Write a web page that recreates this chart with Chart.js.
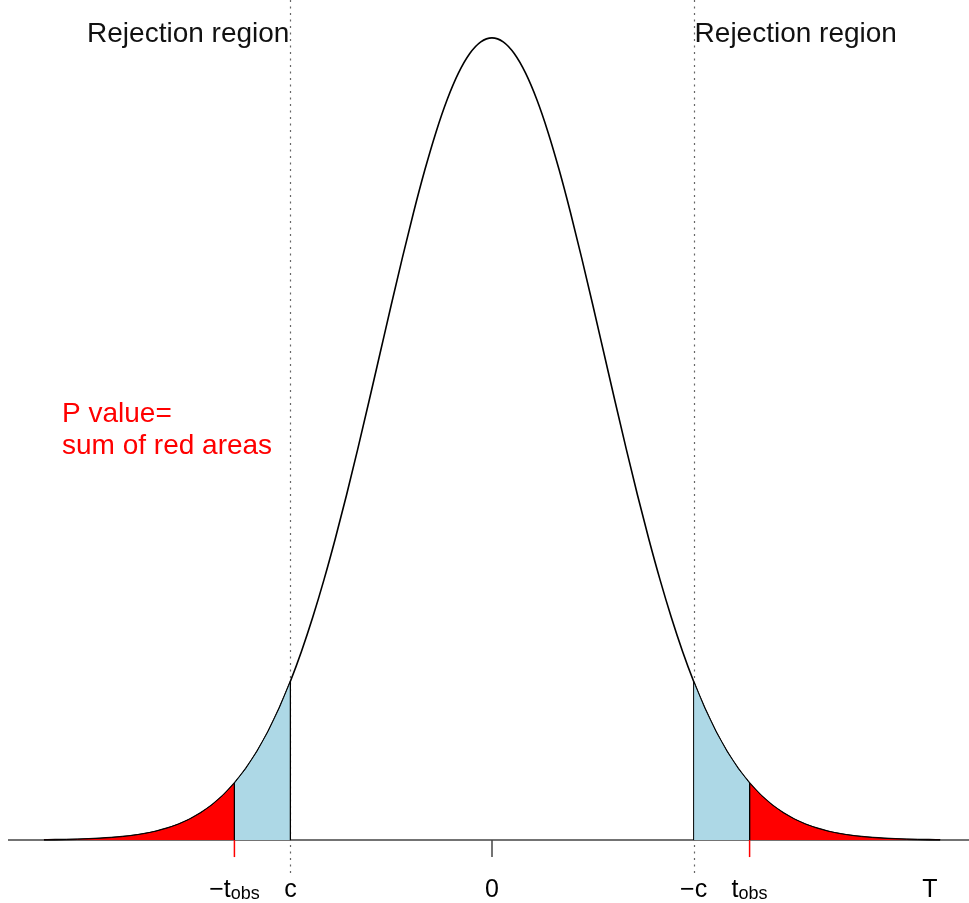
<!DOCTYPE html>
<html>
<head>
<meta charset="utf-8">
<script src="https://cdn.jsdelivr.net/npm/chart.js@4.4.0/dist/chart.umd.min.js"></script>
<style>
  html, body { margin: 0; padding: 0; background: #fff; }
  canvas { display: block; }
</style>
</head>
<body>
<canvas id="chart" width="969" height="903"></canvas>
<script>
// density of the test statistic (right half, symmetric)
const halfX = [0, 0.1, 0.2, 0.3, 0.4, 0.5, 0.6, 0.7, 0.8, 0.9, 1.0,
  1.1, 1.2, 1.3, 1.4, 1.5, 1.6, 1.7, 1.8, 1.9, 2.0,
  2.1, 2.2, 2.3, 2.4, 2.5, 2.6, 2.7, 2.8, 2.9, 3.0,
  3.1, 3.2, 3.3, 3.4, 3.5, 3.6, 3.7, 3.8, 3.9, 4.0];
const halfDensity = [0.39894, 0.39695, 0.39104, 0.38139, 0.36827, 0.35207, 0.33322, 0.31225, 0.28969, 0.26609, 0.24197,
  0.21785, 0.19419, 0.17137, 0.14973, 0.12952, 0.11092, 0.09405, 0.07895, 0.06562, 0.05399,
  0.04398, 0.03547, 0.02833, 0.02239, 0.01753, 0.01358, 0.01042, 0.00792, 0.00595, 0.00443,
  0.00327, 0.00238, 0.00172, 0.00123, 0.00087, 0.00061, 0.00042, 0.00029, 0.00020, 0.00013];

const critical = 1.8;   // c
const tObs = 2.3;       // t_obs
const tailEnd = 4.0;

// tick labels along the axis: [main text, subscript]
const tickValues = [-tObs, -critical, 0, critical, tObs, 3.91];
const tickLabels = [['\u2212t', 'obs'], ['c', ''], ['0', ''], ['\u2212c', ''], ['t', 'obs'], ['T', '']];

const FONT = '"Liberation Sans", Arial, Helvetica, sans-serif';

// full curve from -4 to 4
const curve = [];
for (let i = halfX.length - 1; i > 0; i--) curve.push({ x: -halfX[i], y: halfDensity[i] });
for (let i = 0; i < halfX.length; i++) curve.push({ x: halfX[i], y: halfDensity[i] });

// closed region under the curve between a and b (a < b, same side)
function region(a, b) {
  const pts = [{ x: a, y: 0 }];
  curve.forEach(p => {
    if (p.x >= a - 1e-9 && p.x <= b + 1e-9) pts.push({ x: p.x, y: p.y });
  });
  pts.push({ x: b, y: 0 });
  return pts;
}

function regionSet(data, color) {
  return {
    data: data,
    borderColor: '#000',
    borderWidth: 1,
    backgroundColor: color,
    fill: 'origin',
    pointRadius: 0,
    tension: 0
  };
}

const decorations = {
  id: 'decorations',
  beforeDatasetsDraw(chart) {
    const { ctx, scales: { x, y } } = chart;
    const y0 = y.getPixelForValue(0);
    ctx.save();
    // horizontal axis line
    ctx.strokeStyle = '#444';
    ctx.lineWidth = 1.5;
    ctx.beginPath();
    ctx.moveTo(8, y0);
    ctx.lineTo(chart.width, y0);
    ctx.stroke();
    // dotted lines at the critical values
    ctx.strokeStyle = '#666';
    ctx.lineWidth = 1.2;
    ctx.setLineDash([2, 4.5]);
    [-critical, critical].forEach(v => {
      const px = Math.round(x.getPixelForValue(v)) + 0.5;
      ctx.beginPath();
      ctx.moveTo(px, 0);
      ctx.lineTo(px, y0 + 33);
      ctx.stroke();
    });
    ctx.restore();
  },
  afterDatasetsDraw(chart) {
    const { ctx, scales: { x, y } } = chart;
    const y0 = y.getPixelForValue(0);
    ctx.save();
    // ticks
    ctx.lineWidth = 1.5;
    [[0, '#444'], [-tObs, '#ff0000'], [tObs, '#ff0000']].forEach(([v, col]) => {
      const px = x.getPixelForValue(v);
      ctx.strokeStyle = col;
      ctx.beginPath();
      ctx.moveTo(px, y0);
      ctx.lineTo(px, y0 + 17);
      ctx.stroke();
    });
    // tick labels
    ctx.fillStyle = '#000';
    ctx.textBaseline = 'alphabetic';
    ctx.textAlign = 'left';
    tickValues.forEach((v, i) => {
      const [main, sub] = tickLabels[i];
      ctx.font = '25px ' + FONT;
      const wMain = ctx.measureText(main).width;
      ctx.font = '18px ' + FONT;
      const wSub = sub ? ctx.measureText(sub).width : 0;
      const left = x.getPixelForValue(v) - (wMain + wSub) / 2;
      ctx.font = '25px ' + FONT;
      ctx.fillText(main, left, 897);
      if (sub) {
        ctx.font = '18px ' + FONT;
        ctx.fillText(sub, left + wMain, 899);
      }
    });
    // region captions
    ctx.font = '28px ' + FONT;
    ctx.fillStyle = '#111';
    ctx.textAlign = 'right';
    ctx.fillText('Rejection region', x.getPixelForValue(-critical) - 1, 42);
    ctx.textAlign = 'left';
    ctx.fillText('Rejection region', x.getPixelForValue(critical) + 1, 42);
    // p value note
    ctx.fillStyle = '#ff0000';
    ctx.fillText('P value=', 62, 422);
    ctx.fillText('sum of red areas', 62, 454);
    ctx.restore();
  }
};

new Chart(document.getElementById('chart'), {
  type: 'line',
  data: {
    datasets: [
      regionSet(region(-tailEnd, -tObs), '#ff0000'),
      regionSet(region(-tObs, -critical), '#add8e6'),
      regionSet(region(critical, tObs), '#add8e6'),
      regionSet(region(tObs, tailEnd), '#ff0000'),
      {
        data: curve,
        borderColor: '#000',
        borderWidth: 1.6,
        fill: false,
        pointRadius: 0,
        cubicInterpolationMode: 'monotone'
      }
    ]
  },
  plugins: [decorations],
  options: {
    responsive: false,
    animation: false,
    layout: { padding: 0 },
    plugins: { legend: { display: false }, tooltip: { enabled: false } },
    scales: {
      x: { type: 'linear', min: -4.393, max: 4.259, display: false },
      y: { type: 'linear', min: -0.0313, max: 0.4178, display: false }
    }
  }
});
</script>
</body>
</html>
